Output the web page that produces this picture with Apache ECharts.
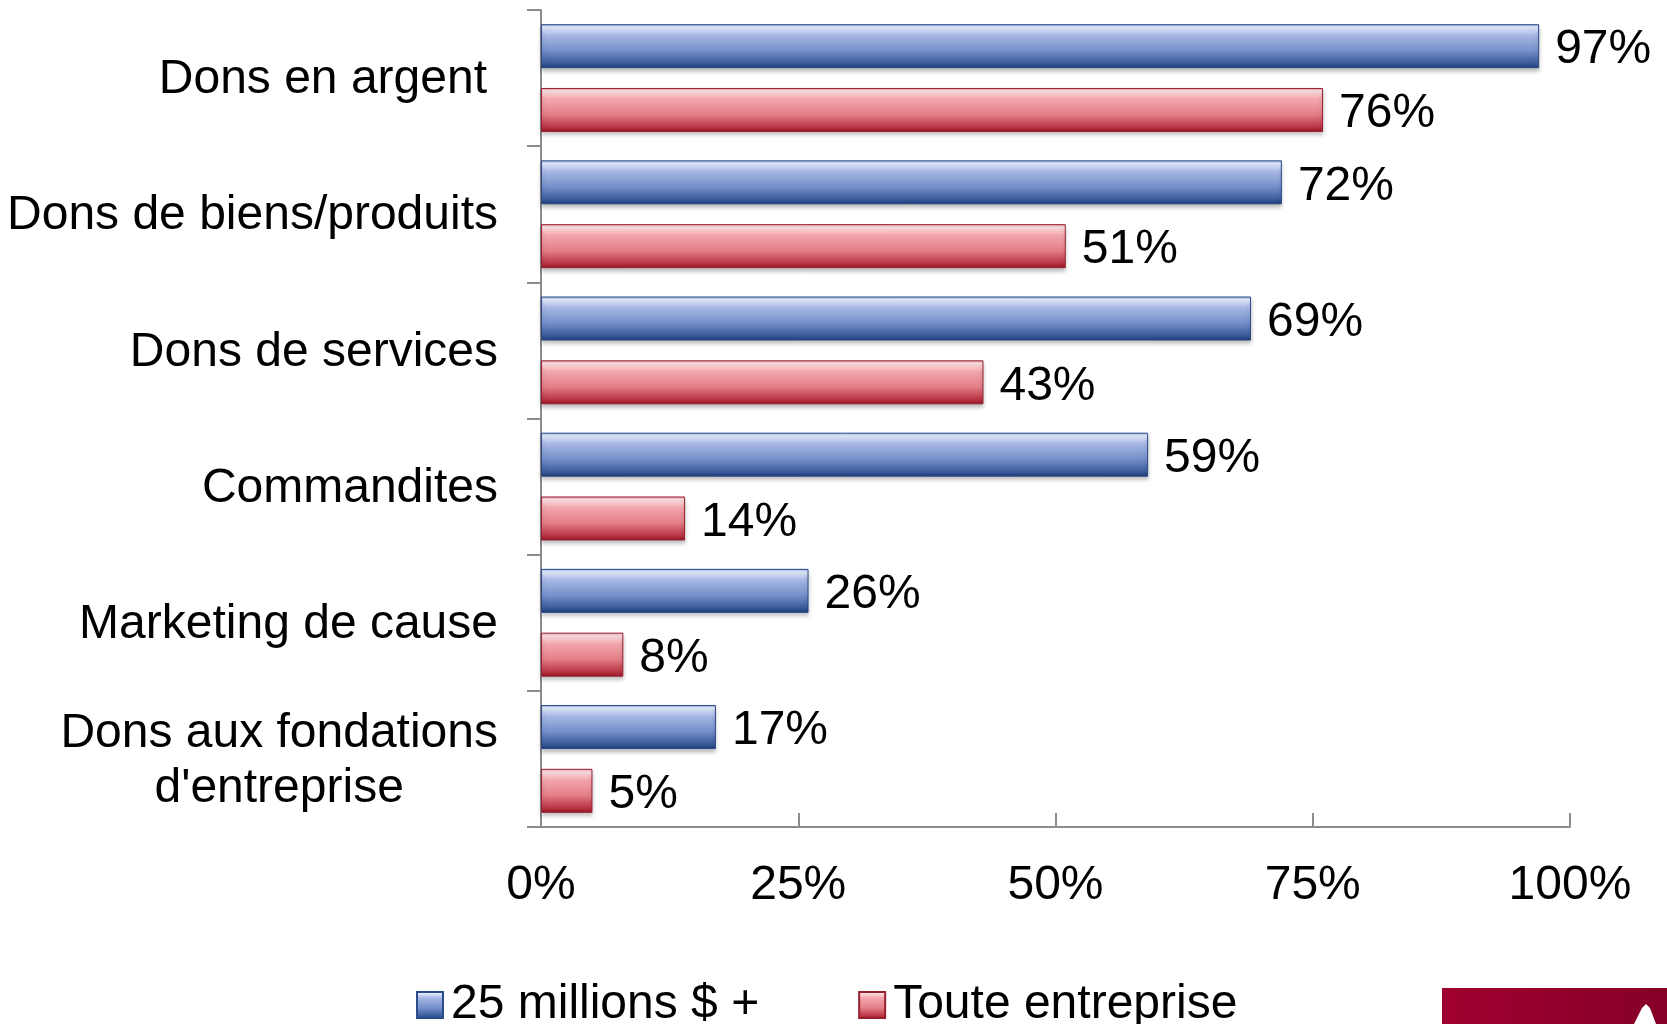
<!DOCTYPE html>
<html>
<head>
  <meta charset="utf-8">
  <title>Dons des entreprises</title>
  <script type="text/javascript" src="https://cdn.jsdelivr.net/npm/echarts@6/dist/echarts.min.js"></script>
  <style>
    html, body { margin: 0; padding: 0; background: #fff; }
  </style>
</head>
<body>
  <div id="main" style="width: 1667px; height: 1024px;"></div>
  <script>
    // données
    var categories = ['Dons en argent', 'Dons de biens/produits', 'Dons de services',
      'Commandites', 'Marketing de cause', 'Dons aux fondations\nd\'entreprise'];
    var grandes = [97, 72, 69, 59, 26, 17];      // 25 millions $ +
    var toutes = [76, 51, 43, 14, 8, 5];         // Toute entreprise
    var xTicks = [0, 25, 50, 75, 100];

    var font = "'Liberation Sans', Arial, sans-serif";
    var axisGray = '#8c8c8c';

    function gloss(c0, c1, c2, c3, c4, c5) {
      return new echarts.graphic.LinearGradient(0, 0, 0, 1, [
        { offset: 0, color: c0 },
        { offset: 0.07, color: c1 },
        { offset: 0.25, color: c2 },
        { offset: 0.6, color: c3 },
        { offset: 0.9, color: c4 },
        { offset: 1, color: c5 }
      ]);
    }
    var blue = gloss('#9ab0e2', '#e6eeff', '#a6b7e4', '#7690cb', '#375898', '#1d386f');
    var red = gloss('#e39aa2', '#ffe3e6', '#f3a6ad', '#e37f88', '#b93241', '#8a1426');

    var chart = echarts.init(document.getElementById('main'));

    var valueLabel = {
      show: true, position: 'right', distance: 16, offset: [0, 4],
      fontSize: 48, color: '#000', fontFamily: font, formatter: '{c}%'
    };

    var option = {
      animation: false,
      grid: {
        left: 541, right: 97, top: 10, bottom: 197,
        containLabel: false,
        outerBoundsMode: 'none'
      },
      legend: {
        left: 411,
        top: 976,
        icon: 'rect',
        itemWidth: 26,
        itemHeight: 26,
        itemGap: 99,
        textStyle: { fontSize: 48, color: '#000', fontFamily: font, padding: [0, 0, 0, 3] },
        data: ['25 millions $ +', 'Toute entreprise']
      },
      xAxis: {
        type: 'value',
        min: xTicks[0], max: xTicks[xTicks.length - 1], interval: 25,
        axisLine: { show: true, lineStyle: { color: axisGray, width: 2 } },
        axisTick: { show: true, inside: true, length: 14, lineStyle: { color: axisGray, width: 2 } },
        splitLine: { show: false },
        axisLabel: {
          margin: 35, fontSize: 48, lineHeight: 48, color: '#000', fontFamily: font,
          formatter: '{value}%'
        }
      },
      yAxis: {
        type: 'category',
        inverse: true,
        data: categories.map(function (c, i) {
          return i === 0 ? { value: c, textStyle: { padding: [4, 11, 0, 0] } } : c;
        }),
        axisLine: { show: true, lineStyle: { color: axisGray, width: 2 } },
        axisTick: { show: true, length: 14, interval: 0, lineStyle: { color: axisGray, width: 2 } },
        axisLabel: {
          interval: 0, margin: 43, fontSize: 48, color: '#000', fontFamily: font,
          lineHeight: 55, padding: [4, 0, 0, 0],
          formatter: function (v) {
            return v.split('\n').map(function (l) { return '{c|' + l + '}'; }).join('\n');
          },
          rich: { c: { align: 'center', fontSize: 48, lineHeight: 55, fontFamily: font, color: '#000' } }
        }
      },
      series: [{
        name: '25 millions $ +',
        type: 'bar',
        data: grandes,
        barWidth: 44,
        barGap: '45%',
        itemStyle: {
          color: blue, borderColor: '#2a4a8a', borderWidth: 1,
          shadowColor: 'rgba(0,0,0,0.25)', shadowBlur: 4, shadowOffsetY: 3
        },
        label: valueLabel
      }, {
        name: 'Toute entreprise',
        type: 'bar',
        data: toutes,
        barWidth: 44,
        barGap: '45%',
        itemStyle: {
          color: red, borderColor: '#9a2030', borderWidth: 1,
          shadowColor: 'rgba(0,0,0,0.25)', shadowBlur: 4, shadowOffsetY: 3
        },
        label: valueLabel
      }],
      graphic: [{
        type: 'rect',
        shape: { x: 1442, y: 988, width: 225, height: 36 },
        style: {
          fill: new echarts.graphic.LinearGradient(0, 0, 1, 0, [
            { offset: 0, color: '#a0002f' },
            { offset: 1, color: '#860027' }
          ])
        }
      }, {
        type: 'polygon',
        shape: { points: [[1634, 1024], [1642, 1008], [1646, 1004], [1650, 1008], [1656, 1024]] },
        style: { fill: '#fff' }
      }]
    };

    chart.setOption(option);
  </script>
</body>
</html>
